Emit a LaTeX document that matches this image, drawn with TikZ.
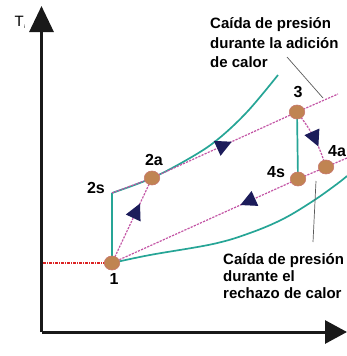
\documentclass[tikz,border=0pt]{standalone}
\usepackage{fontspec}
\setmainfont{Liberation Sans}
\usetikzlibrary{arrows.meta,decorations.markings,shapes.geometric}
\definecolor{tealc}{RGB}{38,165,150}
\definecolor{pinkc}{RGB}{195,85,165}
\definecolor{navyc}{RGB}{28,28,90}
\definecolor{ptfill}{RGB}{192,132,82}
\definecolor{ptedge}{RGB}{200,120,110}
\definecolor{redc}{RGB}{220,35,35}
\definecolor{annc}{RGB}{90,90,90}
\begin{document}
\begin{tikzpicture}[x=1pt,y=-1pt,
  tealline/.style={draw=tealc,line width=1.7pt},
  pinkdash/.style={draw=pinkc,line width=1.2pt,dash pattern=on 2.2pt off 1.2pt},
  flowmark/.style={postaction={decorate},decoration={markings,mark=at position #1 with {\arrow[navyc,solid]{Triangle[length=16pt,width=16pt]}}}},
  pt/.style={ellipse,fill=ptfill,draw=ptedge,line width=0.6pt,minimum width=15.5pt,minimum height=14pt,inner sep=0pt},
  ptlabel/.style={font=\bfseries\fontsize{16}{16}\selectfont,inner sep=0pt},
  note/.style={font=\bfseries\fontsize{15}{15}\selectfont,inner sep=0pt,anchor=base west},
  axisline/.style={line width=3pt,draw=black!90},
  annline/.style={draw=annc,line width=0.7pt}]
\useasboundingbox (0,0) rectangle (347,356);

% coordinates
\coordinate (O) at (41.5,332);
\coordinate (Ytop) at (41.5,6);
\coordinate (Xend) at (347,332);
\coordinate (c1) at (112,263);
\coordinate (c2s) at (112,193);
\coordinate (c2a) at (152,178);
\coordinate (c3) at (297,112);
\coordinate (c4s) at (298,179);
\coordinate (c4a) at (326,167);
\coordinate (e3) at (338,94);
\coordinate (e4) at (347,158);
\coordinate (rl) at (43,263);
\coordinate (a1s) at (287,57);
\coordinate (a1e) at (323,98);
\coordinate (a2s) at (316,181);
\coordinate (a2e) at (313,242);

% axes
\draw[axisline,-{Triangle[length=26pt,width=24pt]}] (O) -- (Ytop);
\draw[axisline,-{Triangle[length=22pt,width=23pt]}] (O) -- (Xend);
\node[font=\fontsize{15}{15}\selectfont,inner sep=0pt] (tlabel) at (20,22) {T\textsubscript{\tiny i}};

% red dotted line
\draw[redc,line width=1.3pt,dash pattern=on 3pt off 1pt on 1pt off 1pt] (rl) -- (c1);

% teal isobars
\draw[tealline] plot[smooth,tension=0.6] coordinates {(112,193) (152,178) (190,158) (217,140) (247,112) (278,75)};
\draw[tealline] plot[smooth,tension=0.6] coordinates {(112,263) (150,255) (213,244) (250,233) (283,219) (313,201) (337,184) (347,176)};
\draw[tealline] (c1) -- (c2s);
\draw[tealline] (c3) -- (c4s);

% pink process lines
\draw[pinkdash] (c2s) -- (c2a);
\draw[pinkdash,flowmark=0.7] (c1) -- (c2a);
\draw[pinkdash,flowmark=0.55] (c2a) -- (c3);
\draw[pinkdash] (c3) -- (e3);
\draw[pinkdash,flowmark=0.31] (c4s) -- (c1);
\draw[pinkdash] (c4s) -- (e4);
\draw[pinkdash,flowmark=0.65] (c3) to[bend left=10] (c4a);

% annotation lines
\draw[annline] (a1s) -- (a1e);
\draw[annline] (a2s) -- (a2e);

% state points
\node[pt] (n1) at (c1) {};
\node[pt] (n2a) at (c2a) {};
\node[pt] (n3) at (c3) {};
\node[pt] (n4s) at (c4s) {};
\node[pt] (n4a) at (c4a) {};

% point labels
\node[ptlabel] (l1) at (114,279) {1};
\node[ptlabel] (l2s) at (96,188) {2s};
\node[ptlabel] (l2a) at (154,160) {2a};
\node[ptlabel] (l3) at (298,92) {3};
\node[ptlabel] (l4s) at (276,172) {4s};
\node[ptlabel] (l4a) at (337,151) {4a};

% notes
\node[note] (u1) at (210,28.5) {Caída de presión};
\node[note] (u2) at (210,48) {durante la adición};
\node[note] (u3) at (210,67) {de calor};
\node[note] (d1) at (223,264) {Caída de presión};
\node[note] (d2) at (223,281) {durante el};
\node[note] (d3) at (223,298) {rechazo de calor};
\end{tikzpicture}
\end{document}
